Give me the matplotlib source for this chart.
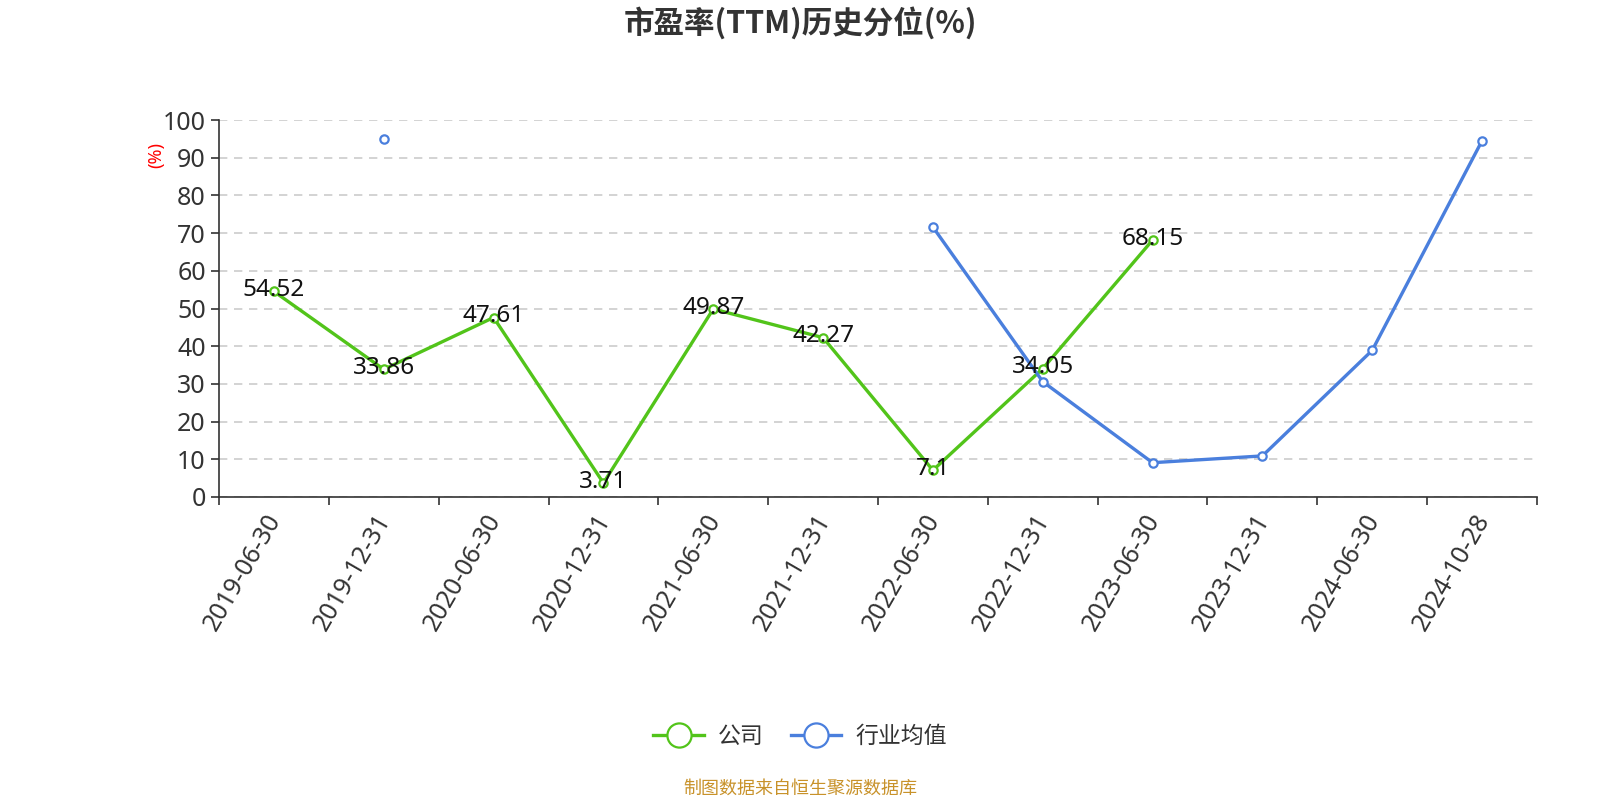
import numpy as np
import matplotlib
matplotlib.use('Agg')
import matplotlib.pyplot as plt
import matplotlib.transforms as mtransforms

plt.rcParams['font.family'] = ['Noto Sans', 'Noto Sans CJK SC', 'DejaVu Sans']
cjk = ['Noto Sans CJK SC', 'DejaVu Sans']

# data
dates = ['2019-06-30', '2019-12-31', '2020-06-30', '2020-12-31', '2021-06-30', '2021-12-31',
         '2022-06-30', '2022-12-31', '2023-06-30', '2023-12-31', '2024-06-30', '2024-10-28']
company = [54.52, 33.86, 47.61, 3.71, 49.87, 42.27, 7.1, 34.05, 68.15, None, None, None]
industry = [None, 95.0, None, None, None, None, 71.6, 30.6, 9.1, 10.9, 38.9, 94.5]
company_labels = ['54.52', '33.86', '47.61', '3.71', '49.87', '42.27', '7.1', '34.05', '68.15']

green = '#52c41a'
blue = '#4a7fdd'

fig = plt.figure(figsize=(16, 8), dpi=100)
ax = fig.add_axes([0.1369, 0.37875, 0.8237, 0.47125])

x = np.arange(len(dates))
comp = np.array([np.nan if v is None else v for v in company])
ind = np.array([np.nan if v is None else v for v in industry])

ax.plot(x, comp, color=green, lw=2.4, marker='o', ms=6, mfc='white', mec=green, mew=1.6,
        label='公司', zorder=3)
ax.plot(x, ind, color=blue, lw=2.4, marker='o', ms=6, mfc='white', mec=blue, mew=1.6,
        label='行业均值', zorder=3)

for i, lab in enumerate(company_labels):
    ax.annotate(lab, (x[i], comp[i]), xytext=(0, 1), textcoords='offset points',
                ha='center', va='center', fontsize=17.5, color='#111111', zorder=4)

ax.set_xlim(-0.5, len(dates) - 0.5)
ax.set_ylim(0, 100)
ax.set_yticks(np.arange(0, 101, 10))
ax.tick_params(axis='y', labelsize=18, labelcolor='#333333', length=6, color='#333333', width=1.2)
ax.grid(axis='y', color='#cccccc', ls=(0, (5, 4)), lw=1.2)
ax.set_axisbelow(True)

ax.set_xticks(x)
ax.set_xticklabels(dates, rotation=60, ha='right', rotation_mode='anchor', fontsize=18, color='#333333')
ax.tick_params(axis='x', which='major', length=0, pad=9)
ax.set_xticks(np.arange(-0.5, len(dates), 1), minor=True)
ax.tick_params(axis='x', which='minor', length=6, color='#333333', width=1.2)

# nudge rotated labels so their ends sit on the band centre
shift = mtransforms.ScaledTranslation(-9 / 100, 0, fig.dpi_scale_trans)
for lbl in ax.get_xticklabels():
    lbl.set_transform(lbl.get_transform() + shift)

for s in ['top', 'right']:
    ax.spines[s].set_visible(False)
ax.spines['left'].set_color('#333333')
ax.spines['bottom'].set_color('#333333')
ax.spines['left'].set_linewidth(1.2)
ax.spines['bottom'].set_linewidth(1.2)

fig.text(0.0975, 0.806, '(%)', rotation=90, color='red', fontsize=13, ha='center', va='center')

fig.text(0.5, 0.971, '市盈率(TTM)历史分位(%)', ha='center', va='center', fontsize=22,
         fontweight='bold', color='#333333', family=cjk)

fig.legend(loc='center', bbox_to_anchor=(0.5, 0.079), ncol=2, frameon=False,
           prop={'family': cjk, 'size': 16.5},
           handlelength=2.2, markerscale=2.9, columnspacing=1.2, handletextpad=0.6,
           labelcolor='#333333')

fig.text(0.5, 0.014, '制图数据来自恒生聚源数据库', ha='center', va='center', fontsize=13,
         color='#c8922a', family=cjk)

fig.savefig('out.png', dpi=100)
